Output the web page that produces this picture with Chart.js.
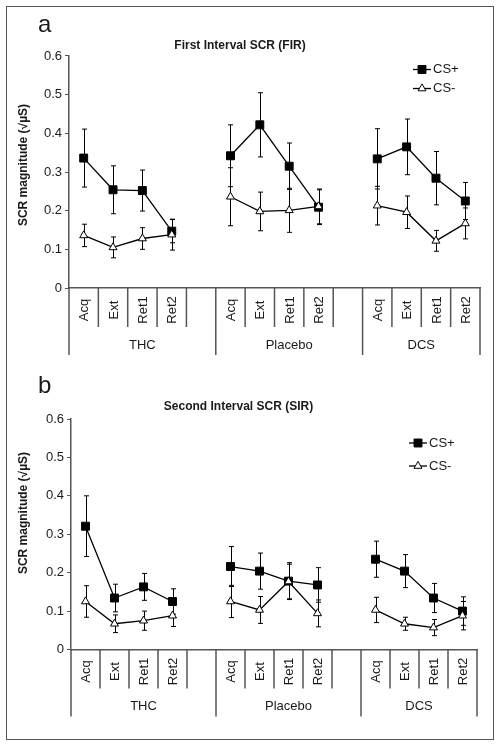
<!DOCTYPE html>
<html>
<head>
<meta charset="utf-8">
<script src="https://cdn.jsdelivr.net/npm/chart.js@4.4.1/dist/chart.umd.min.js"></script>
<style>
  body { margin: 0; background: #fff; }
  #wrap { position: relative; width: 500px; height: 746px; overflow: hidden; }
  #frame { position: absolute; left: 6px; top: 6px; width: 486px; height: 732px; border: 1px solid #555; }
  canvas { position: absolute; left: 0; }
  #firChart { top: 0; }
  #sirChart { top: 370px; }
</style>
</head>
<body>
<div id="wrap">
  <div id="frame"></div>
  <canvas id="firChart" width="500" height="370"></canvas>
  <canvas id="sirChart" width="500" height="376"></canvas>
</div>
<script>
// ---- data ----
const categories = ['Acq', 'Ext', 'Ret1', 'Ret2', '', 'Acq', 'Ext', 'Ret1', 'Ret2', '', 'Acq', 'Ext', 'Ret1', 'Ret2'];
const groups = ['THC', 'Placebo', 'DCS'];
const groupSlots = [5, 5, 4];
const yTicks = [0, 0.1, 0.2, 0.3, 0.4, 0.5, 0.6];

// panel a – First Interval SCR (FIR)
const firCsPlus     = [0.336, 0.254, 0.252, 0.147, null, 0.342, 0.422, 0.315, 0.209, null, 0.334, 0.365, 0.284, 0.225];
const firCsPlusErr  = [0.075, 0.062, 0.053, 0.030, null, 0.080, 0.083, 0.060, 0.045, null, 0.078, 0.072, 0.069, 0.048];
const firCsMinus    = [0.136, 0.105, 0.128, 0.138, null, 0.236, 0.198, 0.201, 0.211, null, 0.213, 0.196, 0.122, 0.167];
const firCsMinusErr = [0.029, 0.027, 0.028, 0.040, null, 0.075, 0.050, 0.057, 0.045, null, 0.050, 0.042, 0.027, 0.040];

// panel b – Second Interval SCR (SIR)
const sirCsPlus     = [0.321, 0.134, 0.163, 0.125, null, 0.216, 0.204, 0.178, 0.168, null, 0.235, 0.204, 0.134, 0.100];
const sirCsPlusErr  = [0.079, 0.036, 0.035, 0.033, null, 0.052, 0.047, 0.048, 0.045, null, 0.047, 0.043, 0.038, 0.037];
const sirCsMinus    = [0.125, 0.067, 0.075, 0.088, null, 0.125, 0.103, 0.177, 0.094, null, 0.103, 0.067, 0.057, 0.088];
const sirCsMinusErr = [0.041, 0.023, 0.025, 0.028, null, 0.042, 0.035, 0.045, 0.035, null, 0.033, 0.017, 0.021, 0.037];

const FONT = 'Arial, "Liberation Sans", Helvetica, sans-serif';
const INK = '#1a1a1a';
const AXIS = '#555';

const plusStyle = { pointStyle: 'rect', radius: 5.6, fill: '#000' };
const minusStyle = { pointStyle: 'triangle', radius: 4.6, fill: '#fff' };

// error bars, category block under the x axis, y title, legend, panel letter
const panelDecor = {
  id: 'panelDecor',
  beforeDatasetsDraw(chart) {
    const ctx = chart.ctx, ys = chart.scales.y;
    ctx.save();
    ctx.strokeStyle = '#000';
    ctx.lineWidth = 1;
    chart.data.datasets.forEach((ds, i) => {
      const meta = chart.getDatasetMeta(i);
      ds.data.forEach((v, j) => {
        if (v == null) return;
        const e = ds.errors[j];
        const x = Math.round(meta.data[j].x) + 0.5;
        const y1 = ys.getPixelForValue(v + e), y2 = ys.getPixelForValue(v - e);
        ctx.beginPath();
        ctx.moveTo(x, y1); ctx.lineTo(x, y2);
        ctx.moveTo(x - 2.5, y1); ctx.lineTo(x + 2.5, y1);
        ctx.moveTo(x - 2.5, y2); ctx.lineTo(x + 2.5, y2);
        ctx.stroke();
      });
    });
    ctx.restore();
  },
  afterDraw(chart, args, o) {
    const ctx = chart.ctx, xs = chart.scales.x, area = chart.chartArea;
    const w = xs.getPixelForValue(1) - xs.getPixelForValue(0);
    const x0 = xs.getPixelForValue(0) - w / 2;
    const base = area.bottom;
    ctx.save();

    // separators
    const longAt = [0];
    groupSlots.reduce((acc, n) => { longAt.push(acc + n); return acc + n; }, 0);
    ctx.strokeStyle = AXIS;
    ctx.lineWidth = 1.5;
    for (let k = 0; k <= categories.length; k++) {
      const x = x0 + k * w;
      ctx.beginPath();
      ctx.moveTo(x, base);
      ctx.lineTo(x, base + (longAt.includes(k) ? 67 : 39));
      ctx.stroke();
    }

    // rotated category labels
    ctx.fillStyle = INK;
    ctx.font = '13px ' + FONT;
    ctx.textAlign = 'center';
    ctx.textBaseline = 'middle';
    categories.forEach((c, i) => {
      if (!c) return;
      ctx.save();
      ctx.translate(xs.getPixelForValue(i) + 1, base + 22);
      ctx.rotate(-Math.PI / 2);
      ctx.fillText(c, 0, 0);
      ctx.restore();
    });

    // group labels
    groups.forEach((g, gi) => {
      const a = x0 + longAt[gi] * w, b = x0 + longAt[gi + 1] * w;
      ctx.fillText(g, (a + b) / 2, base + 57);
    });

    // y axis title
    ctx.save();
    ctx.font = 'bold 12px ' + FONT;
    ctx.translate(24, o.yTitleY);
    ctx.rotate(-Math.PI / 2);
    ctx.fillText('SCR magnitude (\u221A\u00B5S)', 0, 0);
    ctx.restore();

    // legend
    const items = [['CS+', plusStyle], ['CS-', minusStyle]];
    ctx.font = '13px ' + FONT;
    ctx.textAlign = 'left';
    items.forEach(([label, st], i) => {
      const y = o.legendY[i];
      ctx.strokeStyle = '#000';
      ctx.lineWidth = 1.3;
      ctx.beginPath();
      ctx.moveTo(o.legendX, y); ctx.lineTo(o.legendX + 18, y);
      ctx.stroke();
      ctx.fillStyle = st.fill;
      ctx.lineWidth = 1;
      Chart.helpers.drawPoint(ctx, { pointStyle: st.pointStyle, radius: st.radius, rotation: 0, borderWidth: 1 }, o.legendX + 9, y);
      ctx.fillStyle = INK;
      ctx.fillText(label, o.legendX + 20, y);
    });

    // panel letter
    ctx.font = '24px ' + FONT;
    ctx.textBaseline = 'alphabetic';
    ctx.fillText(o.letter, 38, o.letterY);
    ctx.restore();
  }
};

function makePanel(id, title, plus, plusErr, minus, minusErr, p) {
  return new Chart(document.getElementById(id), {
    type: 'line',
    data: {
      labels: categories,
      datasets: [
        {
          label: 'CS+', data: plus, errors: plusErr, order: 2,
          borderColor: '#000', borderWidth: 1.3, spanGaps: false, tension: 0,
          pointStyle: plusStyle.pointStyle, pointRadius: plusStyle.radius,
          pointBackgroundColor: plusStyle.fill, pointBorderColor: '#000', pointBorderWidth: 1
        },
        {
          label: 'CS-', data: minus, errors: minusErr, order: 1,
          borderColor: '#000', borderWidth: 1.3, spanGaps: false, tension: 0,
          pointStyle: minusStyle.pointStyle, pointRadius: minusStyle.radius,
          pointBackgroundColor: minusStyle.fill, pointBorderColor: '#000', pointBorderWidth: 1
        }
      ]
    },
    options: {
      responsive: false,
      animation: false,
      events: [],
      devicePixelRatio: 1,
      layout: { padding: { left: 0, right: p.right, top: 0, bottom: p.bottom } },
      plugins: {
        legend: { display: false },
        tooltip: { enabled: false },
        title: {
          display: true, text: title, color: INK,
          font: { family: FONT, size: 12, weight: 'bold' },
          padding: { top: p.titleTop, bottom: p.titleBottom }
        },
        panelDecor: p.decor
      },
      scales: {
        x: {
          offset: true,
          grid: { display: false },
          border: { display: true, color: AXIS, width: 1.5 },
          ticks: { display: false }
        },
        y: {
          min: 0, max: 0.6,
          afterFit: s => { s.width = p.axisX; },
          afterBuildTicks: s => { s.ticks = yTicks.map(v => ({ value: v })); },
          grid: { display: true, drawOnChartArea: false, drawTicks: true, tickLength: 4, color: AXIS, lineWidth: 1 },
          border: { display: true, color: AXIS, width: 1.5 },
          ticks: {
            color: INK, padding: 3,
            font: { family: FONT, size: 13 },
            callback: v => v === 0 ? '0' : v.toFixed(1)
          }
        }
      }
    },
    plugins: [panelDecor]
  });
}

makePanel('firChart', 'First Interval SCR (FIR)', firCsPlus, firCsPlusErr, firCsMinus, firCsMinusErr, {
  right: 20, bottom: 74, axisX: 69, titleTop: 38.8, titleBottom: 2.8,
  decor: { letter: 'a', letterY: 31.5, yTitleY: 165, legendX: 413, legendY: [69.5, 88.5] }
});

makePanel('sirChart', 'Second Interval SCR (SIR)', sirCsPlus, sirCsPlusErr, sirCsMinus, sirCsMinusErr, {
  right: 23, bottom: 88.5, axisX: 71, titleTop: 29.8, titleBottom: 4.8,
  decor: { letter: 'b', letterY: 22.7, yTitleY: 143, legendX: 409, legendY: [73, 96] }
});
</script>
</body>
</html>
